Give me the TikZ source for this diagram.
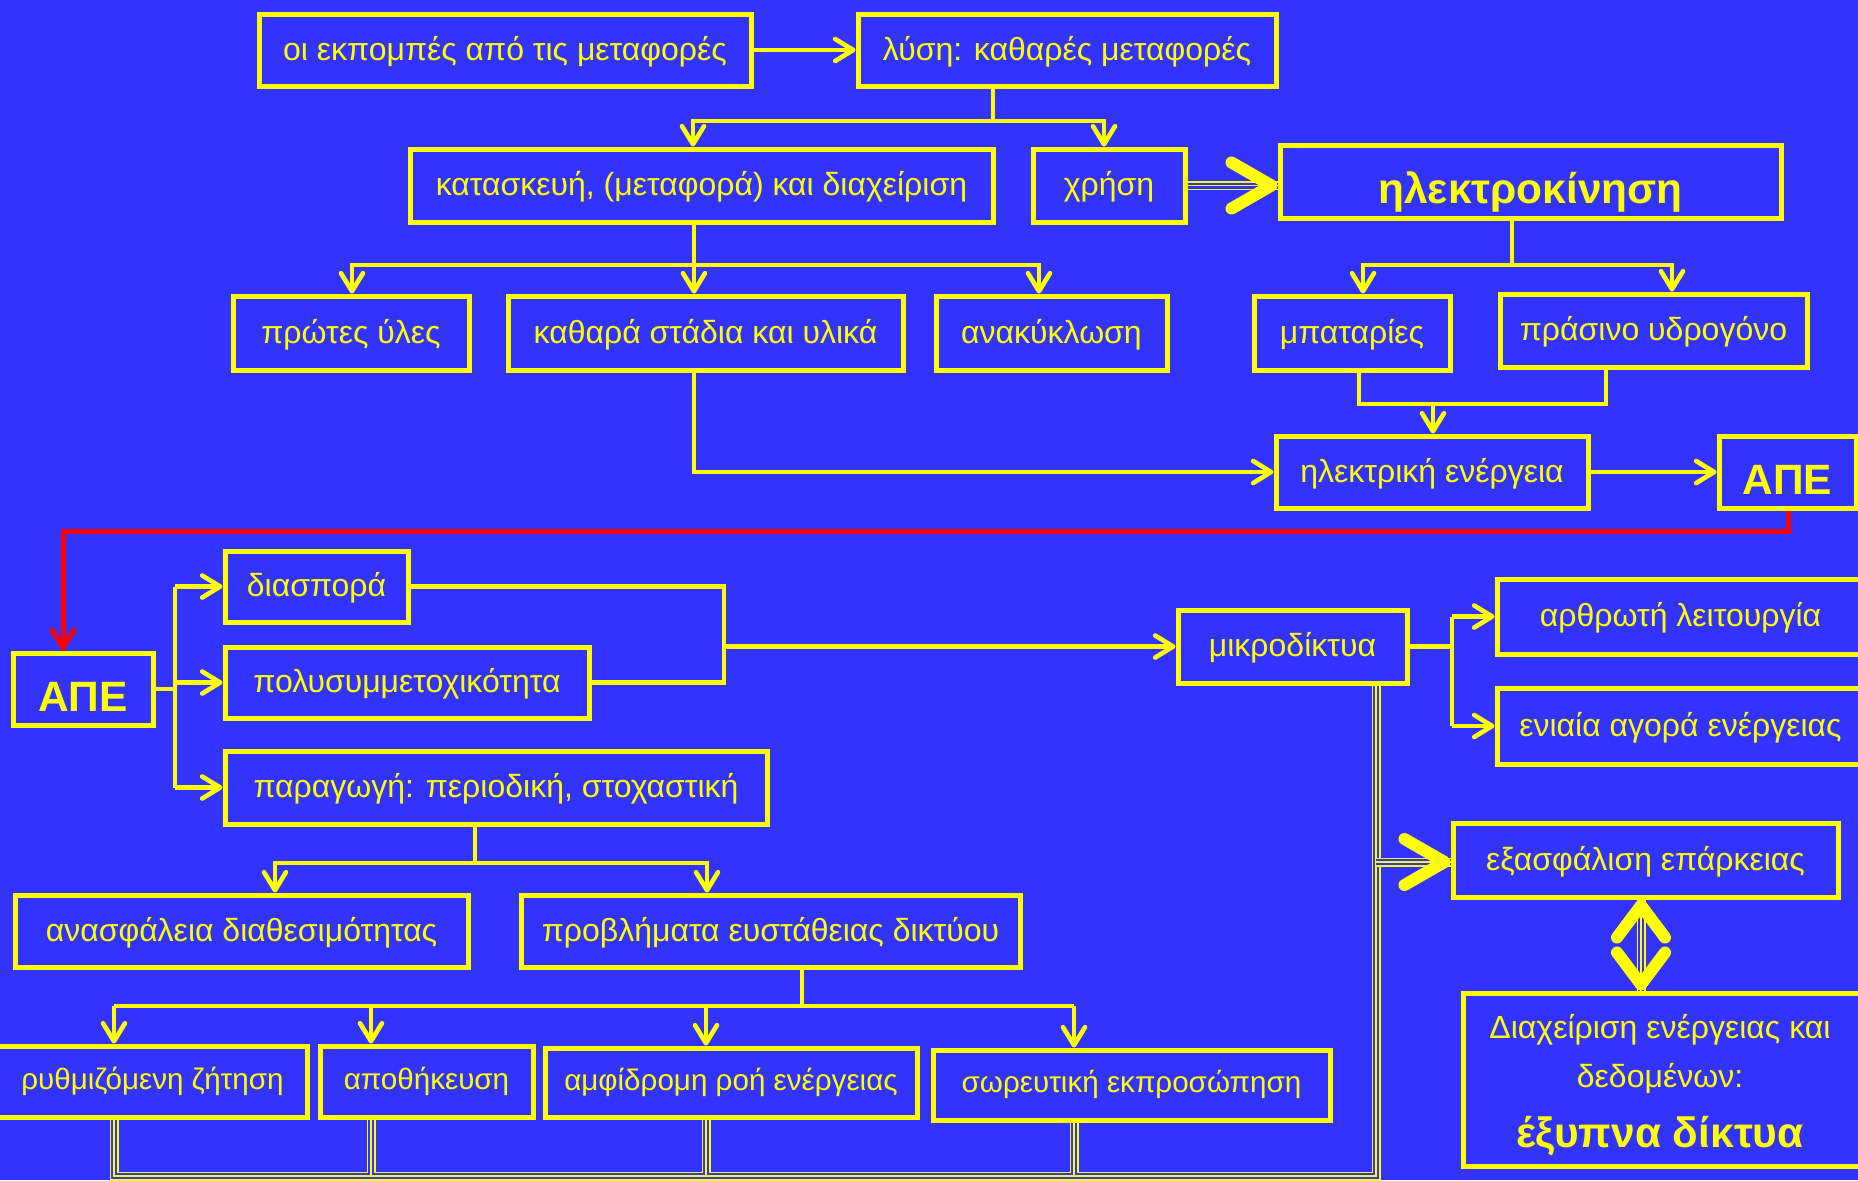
\documentclass[tikz,border=0pt]{standalone}
\usepackage{fontspec}
\setmainfont{Liberation Sans}
\usetikzlibrary{arrows.meta}
\definecolor{bg}{RGB}{51,51,255}
\definecolor{yel}{RGB}{255,255,0}
\definecolor{rd}{RGB}{255,0,0}
\tikzset{
  box/.style={draw=yel, line width=2.5pt, text=yel, inner sep=0pt, font=\fontsize{16}{19}\selectfont, align=center, text height=12.9pt, text depth=2.6pt},
  small/.style={font=\fontsize{14.8}{18}\selectfont, text height=11.2pt, text depth=3.4pt},
  bigbold/.style={font=\fontsize{21.2}{25}\selectfont\bfseries, text height=22.8pt, text depth=0.6pt},
  txt/.style={text=yel, inner sep=0pt, anchor=base, font=\fontsize{16}{19}\selectfont},
  conn/.style={draw=yel, line width=2.3pt},
  arr/.style={conn, -{Straight Barb[length=9pt,width=11pt,round]}},
  redarr/.style={draw=rd, line width=2.5pt, -{Straight Barb[length=9pt,width=11pt,round]}},
  triple/.style={draw=yel, line width=4.5pt, postaction={draw=bg, line width=3pt}, postaction={draw=yel, line width=0.9pt}},
  bigtip/.style={draw=yel, line width=0.9pt, -{Straight Barb[length=20pt,width=23pt,line width=6pt,round]}},
  bigboth/.style={draw=yel, line width=0.9pt, {Straight Barb[length=16pt,width=24pt,line width=6pt,round]}-{Straight Barb[length=16pt,width=24pt,line width=6pt,round]}},
}
\begin{document}
\begin{tikzpicture}[x=0.5pt,y=-0.5pt]
\fill[bg] (0,0) rectangle (1858,1180);
\useasboundingbox (0,0) rectangle (1858,1180);

% nodes
\node[box, minimum width=246pt, minimum height=36pt] (e1) at (505,50) {οι εκπομπές από τις μεταφορές};
\node[box, minimum width=209pt, minimum height=36pt] (e2) at (1067,50) {λύση: καθαρές μεταφορές};
\node[box, minimum width=291.5pt, minimum height=36.5pt] (e3) at (701.5,185.5) {κατασκευή, (μεταφορά) και διαχείριση};
\node[box, minimum width=76pt, minimum height=36.5pt] (e4) at (1109,185.5) {χρήση};
\node[box, minimum width=250.5pt, minimum height=36.5pt, bigbold] (e5) at (1530.5,181.5) {ηλεκτροκίνηση};
\node[box, minimum width=118pt, minimum height=37pt] (e6) at (351,333) {πρώτες ύλες};
\node[box, minimum width=197.5pt, minimum height=37pt] (e7) at (705.5,333) {καθαρά στάδια και υλικά};
\node[box, minimum width=115.5pt, minimum height=37pt] (e8) at (1051.5,333) {ανακύκλωση};
\node[box, minimum width=98pt, minimum height=37pt] (e9) at (1352,333) {μπαταρίες};
\node[box, minimum width=153.5pt, minimum height=36.5pt] (e10) at (1653.5,330.5) {πράσινο υδρογόνο};
\node[box, minimum width=156pt, minimum height=36pt] (e11) at (1432,472) {ηλεκτρική ενέργεια};
\node[box, minimum width=68.5pt, minimum height=36pt, bigbold] (e12) at (1787.5,472) {ΑΠΕ};
\node[box, minimum width=70pt, minimum height=36pt, bigbold] (e13) at (83,689) {ΑΠΕ};
\node[box, minimum width=91.5pt, minimum height=35.5pt] (e14) at (316.5,586.5) {διασπορά};
\node[box, minimum width=182pt, minimum height=35.5pt] (e15) at (407,682.5) {πολυσυμμετοχικότητα};
\node[box, minimum width=271pt, minimum height=36.5pt] (e16) at (496,787.5) {παραγωγή: περιοδική, στοχαστική};
\node[box, minimum width=114.5pt, minimum height=36.5pt] (e17) at (1292.5,646.5) {μικροδίκτυα};
\node[box, minimum width=183.5pt, minimum height=37.5pt] (e18) at (1680.5,616.5) {αρθρωτή λειτουργία};
\node[box, minimum width=183.5pt, minimum height=38pt] (e19) at (1680.5,726) {ενιαία αγορά ενέργειας};
\node[box, minimum width=192.5pt, minimum height=37pt] (e20) at (1645.5,860) {εξασφάλιση επάρκειας};
\node[box, minimum width=200.5pt, minimum height=86.5pt] (e21) at (1663.5,1079.5) {};
\node[txt] (e21a) at (1660,1038) {Διαχείριση ενέργειας και};
\node[txt] (e21b) at (1660,1087) {δεδομένων:};
\node[txt, font=\fontsize{21.2}{25}\selectfont\bfseries] (e21c) at (1660,1147) {έξυπνα δίκτυα};
\node[box, minimum width=226.5pt, minimum height=36pt] (e22) at (241.5,931) {ανασφάλεια διαθεσιμότητας};
\node[box, minimum width=249.5pt, minimum height=36pt] (e23) at (770.5,931) {προβλήματα ευστάθειας δικτύου};
\node[box, small, minimum width=154.5pt, minimum height=35.5pt] (e24) at (152.5,1081.5) {ρυθμιζόμενη ζήτηση};
\node[box, small, minimum width=106.5pt, minimum height=35.5pt] (e25) at (426.5,1081.5) {αποθήκευση};
\node[box, small, minimum width=186pt, minimum height=34.5pt] (e26) at (731,1082.5) {αμφίδρομη ροή ενέργειας};
\node[box, small, minimum width=198.5pt, minimum height=35pt] (e27) at (1131.5,1085) {σωρευτική εκπροσώπηση};

% coordinates
\coordinate (j1) at (993,121);
\coordinate (b3) at (693,121);
\coordinate (b4) at (1104,121);
\coordinate (j2) at (694,265);
\coordinate (b6) at (352,265);
\coordinate (b8) at (1039,265);
\coordinate (j3) at (1512,265);
\coordinate (b9) at (1363,265);
\coordinate (b10) at (1672,265);
\coordinate (k1) at (1359,404);
\coordinate (k2) at (1606,404);
\coordinate (k3) at (1433,404);
\coordinate (k4) at (694,472);
\coordinate (r1) at (1788,531);
\coordinate (r2) at (63,531);
\coordinate (v1) at (175,0);
\coordinate (v2) at (724,0);
\coordinate (v3) at (1452,0);
\coordinate (j4) at (475,863);
\coordinate (b22) at (275,863);
\coordinate (b23) at (707,863);
\coordinate (j5) at (802,1006);
\coordinate (b24) at (114,1006);
\coordinate (b25) at (371,1006);
\coordinate (b26) at (706,1006);
\coordinate (b27) at (1074,1006);
\coordinate (t1) at (114,1176);
\coordinate (t2) at (371,1176);
\coordinate (t3) at (706,1176);
\coordinate (t4) at (1074,1176);
\coordinate (t5) at (1376,1176);
\coordinate (t6) at (1376,862);
\coordinate (dx) at (1641,0);

% connectors
\draw[arr] (e1) -- (e2);
\draw[conn] (j1 |- e2.south) -- (j1);
\draw[arr] (j1) -- (b3) -- (b3 |- e3.north);
\draw[arr] (j1) -- (b4) -- (b4 |- e4.north);

\draw[triple] (e4.east) -- (e4.east -| e5.west);
\draw[bigtip] (e4.east) -- (e4.east -| e5.west);

\draw[conn] (j2 |- e3.south) -- (j2);
\draw[arr] (j2) -- (b6) -- (b6 |- e6.north);
\draw[arr] (j2) -- (j2 |- e7.north);
\draw[arr] (j2) -- (b8) -- (b8 |- e8.north);

\draw[conn] (j3 |- e5.south) -- (j3);
\draw[arr] (j3) -- (b9) -- (b9 |- e9.north);
\draw[arr] (j3) -- (b10) -- (b10 |- e10.north);

\draw[conn] (k1 |- e9.south) -- (k1) -- (k2) -- (k2 |- e10.south);
\draw[arr] (k3) -- (k3 |- e11.north);

\draw[arr] (k4 |- e7.south) -- (k4) -- (e11.west);
\draw[arr] (e11) -- (e12);

\draw[redarr] (r1 |- e12.south) -- (r1) -- (r2) -- (r2 |- e13.north);

\draw[conn] (e13.east) -- (v1 |- e13.east);
\draw[conn] (v1 |- e14.west) -- (v1 |- e16.west);
\draw[arr] (v1 |- e14.west) -- (e14.west);
\draw[arr] (v1 |- e15.west) -- (e15.west);
\draw[arr] (v1 |- e16.west) -- (e16.west);

\draw[conn] (e14.east) -- (v2 |- e14.east) -- (v2 |- e15.east) -- (e15.east);
\draw[arr] (v2 |- e17.west) -- (e17.west);

\draw[conn] (e17.east) -- (v3 |- e17.east);
\draw[conn] (v3 |- e18.west) -- (v3 |- e19.west);
\draw[arr] (v3 |- e18.west) -- (e18.west);
\draw[arr] (v3 |- e19.west) -- (e19.west);

\draw[conn] (j4 |- e16.south) -- (j4);
\draw[arr] (j4) -- (b22) -- (b22 |- e22.north);
\draw[arr] (j4) -- (b23) -- (b23 |- e23.north);

\draw[conn] (j5 |- e23.south) -- (j5);
\draw[conn] (b24) -- (b27);
\draw[arr] (b24) -- (b24 |- e24.north);
\draw[arr] (b25) -- (b25 |- e25.north);
\draw[arr] (b26) -- (b26 |- e26.north);
\draw[arr] (b27) -- (b27 |- e27.north);

\draw[triple] (t1 |- e24.south) -- (t1) -- (t5) -- (t5 |- e17.south)
  (t2 |- e25.south) -- (t2) (t3 |- e26.south) -- (t3) (t4 |- e27.south) -- (t4);
\draw[triple] (t6) -- (t6 -| e20.west);
\draw[bigtip] (t6) -- (t6 -| e20.west);

\draw[triple] (dx |- e20.south) -- (dx |- e21.north);
\draw[bigboth] (dx |- e20.south) -- (dx |- e21.north);
\end{tikzpicture}
\end{document}
